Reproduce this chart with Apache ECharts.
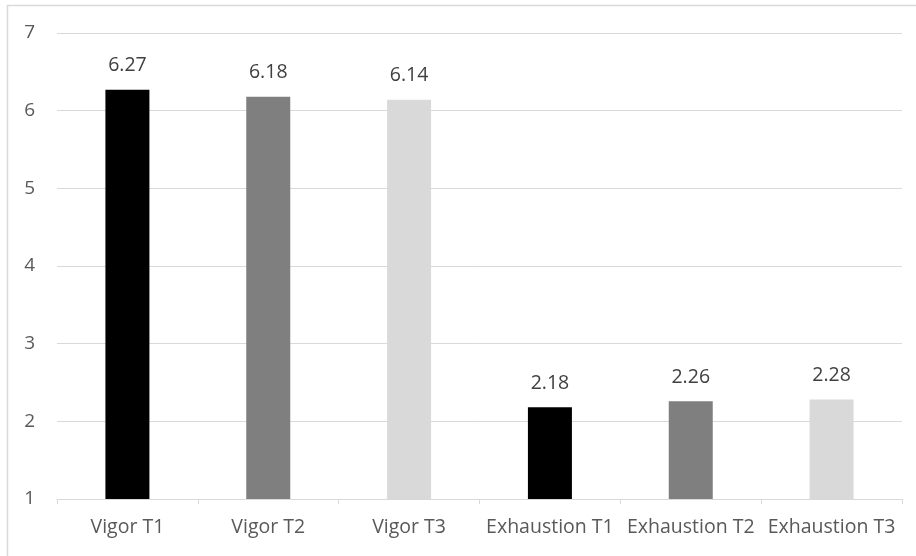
<!DOCTYPE html>
<html>
<head>
<meta charset="utf-8">
<script src="https://cdn.jsdelivr.net/npm/echarts@6/dist/echarts.min.js"></script>
<style>
html,body{margin:0;padding:0;background:#fff;}
#c{width:916px;height:556px;}
</style>
</head>
<body>
<div id="c"></div>
<script>
const categories = ["Vigor T1", "Vigor T2", "Vigor T3", "Exhaustion T1", "Exhaustion T2", "Exhaustion T3"];
const values = [6.27, 6.18, 6.14, 2.18, 2.26, 2.28];
const yTicks = [1, 2, 3, 4, 5, 6, 7];
const barColors = ["#000000", "#7f7f7f", "#d9d9d9", "#000000", "#7f7f7f", "#d9d9d9"];

const chart = echarts.init(document.getElementById('c'), null, {renderer: 'canvas'});
const font = '"Open Sans", Lato, sans-serif';
chart.setOption({
  animation: false,
  graphic: [{
    type: 'rect',
    shape: {x: 7.5, y: 5.5, width: 1000, height: 1000},
    style: {fill: 'none', stroke: '#d9d9d9', lineWidth: 1.5},
    silent: true,
    z: -10
  }],
  grid: {left: 57, right: 14, top: 33, bottom: 57},
  xAxis: {
    type: 'category',
    data: categories,
    axisLine: {lineStyle: {color: '#d9d9d9', width: 1}},
    axisTick: {show: true, length: 5, lineStyle: {color: '#d9d9d9'}},
    axisLabel: {color: '#595959', fontSize: 19.5, fontFamily: font, margin: 18, interval: 0}
  },
  yAxis: {
    type: 'value',
    min: yTicks[0],
    max: yTicks[yTicks.length - 1],
    interval: 1,
    axisLine: {show: false},
    axisTick: {show: false},
    splitLine: {lineStyle: {color: '#d9d9d9', width: 1}},
    axisLabel: {color: '#595959', fontSize: 19, fontFamily: font, margin: 22}
  },
  series: [{
    type: 'bar',
    barWidth: 44,
    data: values.map((v, i) => ({value: v, itemStyle: {color: barColors[i]}})),
    label: {
      show: true,
      position: 'top',
      distance: 14,
      color: '#404040',
      fontSize: 19.5,
      fontFamily: font,
      formatter: p => p.value.toFixed(2)
    }
  }]
});
</script>
</body>
</html>
